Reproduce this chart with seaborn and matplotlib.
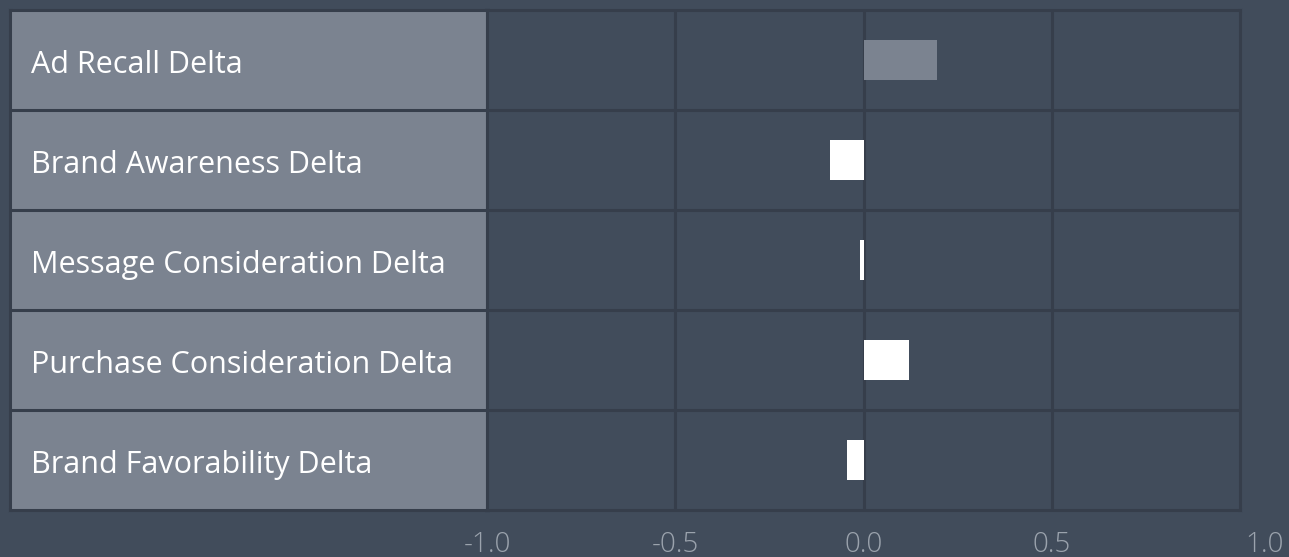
import matplotlib
matplotlib.use("Agg")
import matplotlib.pyplot as plt
import matplotlib.transforms as mt
import seaborn as sns
import pandas as pd

categories = ["Ad Recall Delta", "Brand Awareness Delta", "Message Consideration Delta",
              "Purchase Consideration Delta", "Brand Favorability Delta"]
values = [0.195, -0.088, -0.01, 0.12, -0.045]
bar_colors = ["#7b8390", "#ffffff", "#ffffff", "#ffffff", "#ffffff"]
tick_values = [-1.0, -0.5, 0.0, 0.5, 1.0]
tick_labels = ["-1.0", "-0.5", "0.0", "0.5", "1.0"]

BG = "#414c5b"
SEP = "#363e4b"
PANEL = "#7b8390"
TICK = "#9ba3ad"

sns.set_theme(style="dark")
plt.rcParams["font.family"] = ["Open Sans", "DejaVu Sans"]

W, H = 1289, 557
fig = plt.figure(figsize=(W / 100, H / 100), dpi=100, facecolor=BG)

top = (H - 10) / H
bot = (H - 510) / H
axL = fig.add_axes([10 / W, bot, (487 - 10) / W, top - bot])
axR = fig.add_axes([487 / W, bot, (1240 - 487) / W, top - bot])

df = pd.DataFrame({"cat": categories, "val": values})
n = len(categories)

LW = 2.2

# left label panel
axL.set_facecolor(PANEL)
axL.set_xlim(0, 1)
axL.set_ylim(n - 0.5, -0.5)
axL.set_xticks([])
axL.set_yticks([])
for s in axL.spines.values():
    s.set_color(SEP)
    s.set_linewidth(LW)
for i in range(n - 1):
    axL.axhline(i + 0.5, color=SEP, lw=LW)
for i, c in enumerate(categories):
    axL.text(21 / 477, i + 0.13, c, color="white", fontsize=22, va="baseline", ha="left")

# right data panel
axR.set_facecolor(BG)
sns.barplot(data=df, x="val", y="cat", hue="cat", palette=bar_colors, legend=False,
            orient="h", width=0.4, ax=axR, saturation=1, edgecolor="none", dodge=False)
axR.set_xlim(-1, 1)
axR.set_ylim(n - 0.5, -0.5)
axR.set_ylabel("")
axR.set_xlabel("")
axR.set_yticks([])
axR.grid(False)
for xv in [-0.5, 0.0, 0.5]:
    axR.axvline(xv, color=SEP, lw=LW, zorder=0)
for i in range(n - 1):
    axR.axhline(i + 0.5, color=SEP, lw=LW, zorder=0)
for s in axR.spines.values():
    s.set_color(SEP)
    s.set_linewidth(LW)
axR.set_xticks(tick_values)
axR.set_xticklabels(tick_labels, color=TICK, fontsize=20, fontweight="light")
axR.tick_params(axis="x", length=0, pad=15)
lbls = axR.get_xticklabels()
lbls[-1].set_transform(lbls[-1].get_transform() + mt.ScaledTranslation(25 / 100, 0, fig.dpi_scale_trans))

fig.savefig("out.png", dpi=100, facecolor=BG)
